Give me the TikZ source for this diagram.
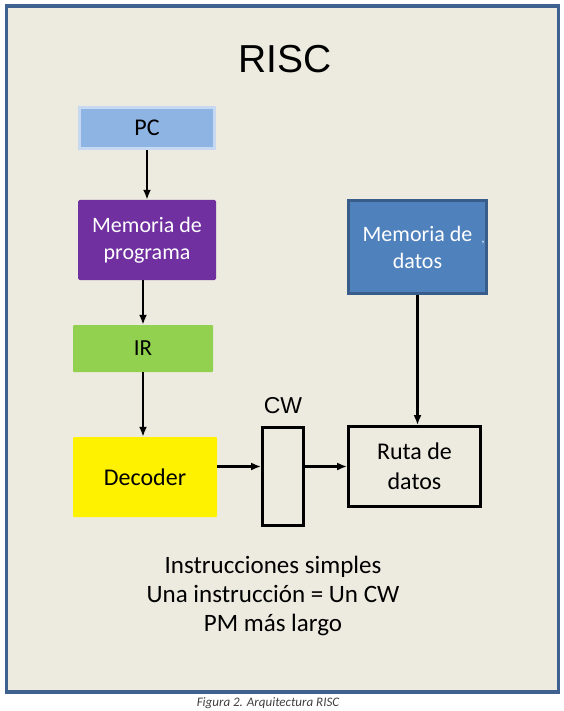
\documentclass[tikz,border=0pt]{standalone}
\usepackage{fontspec}
\setmainfont{Carlito}
\newfontfamily\arialfont{Liberation Sans}
\usetikzlibrary{calc,arrows.meta}

\definecolor{paper}{HTML}{EDEBE0}
\definecolor{frame}{HTML}{3F6190}
\definecolor{pcblue}{HTML}{8EB4E3}
\definecolor{pcedge}{HTML}{C6D9F1}
\definecolor{progviolet}{HTML}{7030A0}
\definecolor{irgreen}{HTML}{92D050}
\definecolor{datblue}{HTML}{4F81BD}
\definecolor{datedge}{HTML}{385D8A}

\begin{document}
\begin{tikzpicture}[x=1pt,y=-1pt,
    block/.style={inner sep=0pt,align=center,font=\fontsize{22}{27}\selectfont},
    arr/.style={-{Latex[length=10pt,width=8pt]},line width=2.2pt}]
  \useasboundingbox (0,0) rectangle (563,711);
  \draw[frame,line width=3.5pt,fill=paper] (6.7,6) rectangle (558.5,692);

  \node[font=\arialfont\fontsize{39}{39}\selectfont] (title) at (285,59) {RISC};

  \node[block,fill=pcblue,draw=pcedge,line width=2.5pt,font=\fontsize{24}{24}\selectfont,minimum width=135pt,minimum height=41pt] (PC) at (147,128) {PC};
  \node[block,fill=progviolet,text=white,rounded corners=1.5pt,minimum width=138pt,minimum height=80pt] (MemP) at (147,240) {Memoria de\\programa};
  \node[block,fill=irgreen,rounded corners=1pt,font=\fontsize{23}{23}\selectfont,minimum width=140pt,minimum height=47pt] (IR) at (143,348.5) {IR};
  \node[block,fill=yellow,font=\fontsize{24}{29}\selectfont,rounded corners=1pt,minimum width=144pt,minimum height=80pt] (Dec) at (145,477) {Decoder};
  \node[block,draw=black,line width=2.8pt,minimum width=41pt,minimum height=98pt] (CW) at (283,476.5) {};
  \node[font=\arialfont\fontsize{23}{23}\selectfont] (CWlbl) at (283,406) {CW};
  \node[block,draw=black,line width=2.8pt,font=\fontsize{24}{30}\selectfont,minimum width=132pt,minimum height=80pt] (Ruta) at (414.5,466.5) {Ruta de\\datos};
  \node[block,fill=datblue,draw=datedge,line width=2.8pt,text=white,minimum width=138pt,minimum height=93pt] (MemD) at (417.5,247) {Memoria de\\datos};
  \node[text=white,font=\fontsize{12}{12}\selectfont] (tick) at (483,243) {,};

  \draw[arr] (PC.south) -- (MemP.north);
  \draw[arr] (IR.north |- MemP.south) -- (IR.north);
  \draw[arr] (IR.south) -- (IR.south |- Dec.north);
  \draw[arr] (Dec.east |- Ruta.west) -- (CW.west |- Ruta.west);
  \draw[arr] (CW.east |- Ruta.west) -- (Ruta.west);
  \draw[arr] (MemD.south) -- (MemD.south |- Ruta.north);

  \node[align=center,font=\fontsize{25}{29}\selectfont] (notes) at (273,596) {Instrucciones simples\\Una instrucción = Un CW\\PM más largo};

  \node[font=\itshape\fontsize{13}{13}\selectfont,text=black!75] (caption) at (268,703) {Figura 2. Arquitectura RISC};
\end{tikzpicture}
\end{document}
